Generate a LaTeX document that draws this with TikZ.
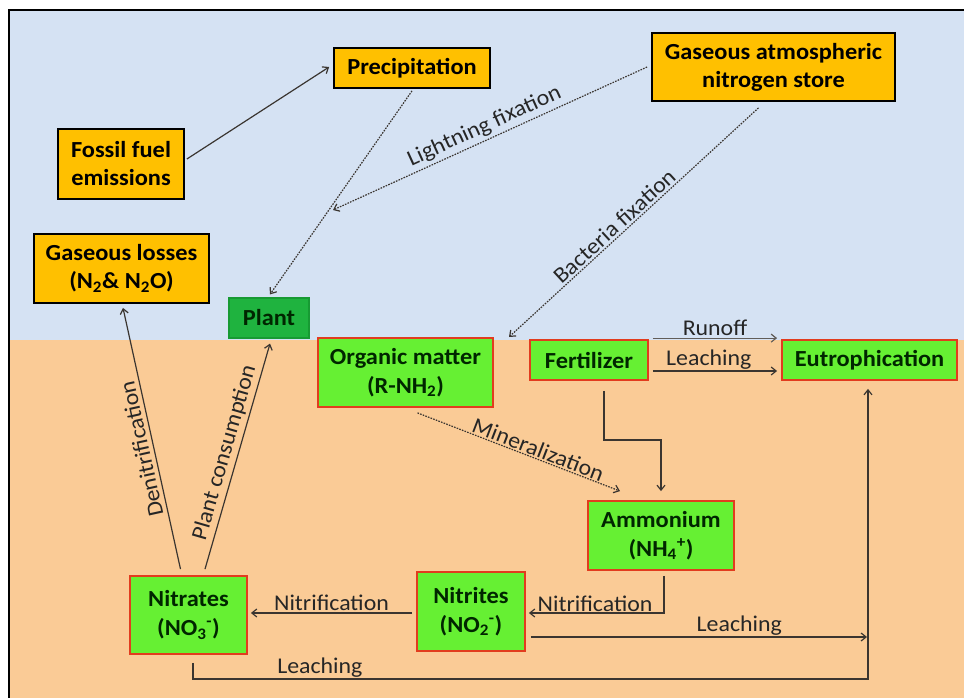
\documentclass[tikz,border=0pt]{standalone}
\usepackage{fontspec}
\setmainfont{Carlito}[FakeStretch=1.06]
\usetikzlibrary{arrows.meta,calc}
\definecolor{skyc}{HTML}{D5E2F3}
\definecolor{soilc}{HTML}{FACB96}
\definecolor{yboxc}{HTML}{FFC000}
\definecolor{gboxc}{HTML}{66F033}
\definecolor{redc}{HTML}{E23C1E}
\definecolor{plantc}{HTML}{1FB33F}
\definecolor{plantb}{HTML}{179A33}
\definecolor{linec}{HTML}{3A3530}
\begin{document}
\begin{tikzpicture}[x=1pt,y=-1pt,
  ybox/.style={draw=black, line width=1.8pt, fill=yboxc, align=center, inner sep=0pt,
    font=\fontsize{23}{28}\selectfont\bfseries},
  gbox/.style={draw=redc, line width=1.8pt, fill=gboxc, align=center, inner sep=0pt,
    font=\fontsize{23}{29}\selectfont\bfseries, text=black!85!green},
  pbox/.style={draw=plantb, line width=1.2pt, fill=plantc, align=center, inner sep=0pt,
    font=\fontsize{23}{28}\selectfont\bfseries, text=black!85!green},
  conn/.style={draw=linec, line width=1.2pt, -{Straight Barb[length=5pt,width=8pt]}},
  dotc/.style={conn, dash pattern=on 1.6pt off 1.2pt},
  lbl/.style={font=\fontsize{22.5}{24}\selectfont, text=black!85, inner sep=2pt}
]
\useasboundingbox (0,0) rectangle (964,698);
% backgrounds
\fill[white] (0,0) rectangle (964,698);
\fill[skyc] (9,10) rectangle (964,340);
\fill[soilc] (9,340) rectangle (964,698);
\draw[black, line width=1.5pt] (9,698) -- (9,10) -- (964,10);

% nodes
\node[ybox, minimum width=156pt, minimum height=40pt] (prec) at (412,68) {Precipitation};
\node[ybox, minimum width=126pt, minimum height=70pt] (fossil) at (121,164) {Fossil fuel\\emissions};
\node[ybox, minimum width=175pt, minimum height=69pt] (losses) at (121.5,268.5) {Gaseous losses\\(N\textsubscript{2}\& N\textsubscript{2}O)};
\node[pbox, minimum width=80pt, minimum height=40pt] (plant) at (269,318) {Plant};
\node[ybox, minimum width=243pt, minimum height=68pt] (gas) at (773.5,67) {Gaseous atmospheric\\nitrogen store};
\node[gbox, minimum width=175pt, minimum height=69pt] (organic) at (405.5,372.5) {Organic matter\\(R-NH\textsubscript{2})};
\node[gbox, minimum width=118pt, minimum height=40pt] (fert) at (589,360) {Fertilizer};
\node[gbox, minimum width=175pt, minimum height=40pt] (eutro) at (869.5,360) {Eutrophication};
\node[gbox, minimum width=146pt, minimum height=69pt] (ammon) at (661,535.5) {Ammonium\\(NH\textsubscript{4}\textsuperscript{+})};
\node[gbox, minimum width=108pt, minimum height=79pt] (nitrites) at (471,611.5) {Nitrites\\(NO\textsubscript{2}\textsuperscript{-})};
\node[gbox, minimum width=117pt, minimum height=78pt] (nitrates) at (188.5,615) {Nitrates\\(NO\textsubscript{3}\textsuperscript{-})};

\coordinate (lf) at (333,210);
\coordinate (bf) at (509,337);
\coordinate (lv) at (867,637);

% connectors
\draw[conn] ([xshift=2pt,yshift=5pt]fossil.east) -- ([xshift=-4pt,yshift=1pt]prec.west);
\draw[dotc] ([yshift=-2pt]prec.south) -- ([xshift=1pt,yshift=3pt]plant.north);
\draw[dotc] ([xshift=-4pt]gas.west) -- node[lbl, sloped, above, pos=0.5, inner sep=3pt] {Lightning fixation} (lf);
\draw[dotc] ([xshift=-15pt,yshift=-6pt]gas.south) -- node[lbl, sloped, above, pos=0.55] {Bacteria fixation} (bf);
\draw[conn, draw=linec!80] ([xshift=4pt,yshift=1pt]fert.north east) -- node[lbl, above, pos=0.5] {Runoff} ([xshift=-4pt,yshift=1pt]eutro.north west);
\draw[conn] ([xshift=4pt,yshift=-11pt]fert.east) -- node[lbl, above, pos=0.45, inner sep=1pt] {Leaching} ([xshift=-4pt,yshift=-11pt]eutro.west);
\draw[conn] ([xshift=15pt,yshift=-10pt]fert.south) -- ++(0,49) -| ([yshift=9pt]ammon.north);
\draw[dotc] ([xshift=12pt,yshift=-5pt]organic.south) -- node[lbl, sloped, above, pos=0.58, inner sep=1pt] {Mineralization} ([xshift=-41pt,yshift=9pt]ammon.north);
\draw[conn] ([xshift=3pt,yshift=-5pt]ammon.south) |- node[lbl, above, pos=0.755, inner sep=1pt] {Nitrification} ([xshift=3pt,yshift=-1.5pt]nitrites.east);
\draw[conn] ([xshift=-4pt,yshift=-1.5pt]nitrites.west) -- node[lbl, above, pos=0.5] {Nitrification} ([xshift=3pt,yshift=2pt]nitrates.east);
\draw[conn] ([xshift=5pt,yshift=-25.5pt]nitrites.east) -- node[lbl, above, pos=0.62, inner sep=1pt] {Leaching} (lv);
\draw[conn] ([xshift=4.5pt,yshift=-8pt]nitrates.south) -- ++(0,16) -| node[lbl, above, pos=0.094, inner sep=1pt] {Leaching} ([xshift=-1.5pt,yshift=-8pt]eutro.south);
\draw[conn] ([xshift=-8pt,yshift=6pt]nitrates.north) -- node[lbl, sloped, allow upside down, above, pos=0.47, inner sep=4pt] {Denitrification} ([xshift=1.5pt,yshift=-4pt]losses.south);
\draw[conn] ([xshift=16.5pt,yshift=6pt]nitrates.north) -- node[lbl, sloped, above, pos=0.5, inner sep=3pt] {Plant consumption} ([xshift=1pt,yshift=-5pt]plant.south);
\end{tikzpicture}
\end{document}
